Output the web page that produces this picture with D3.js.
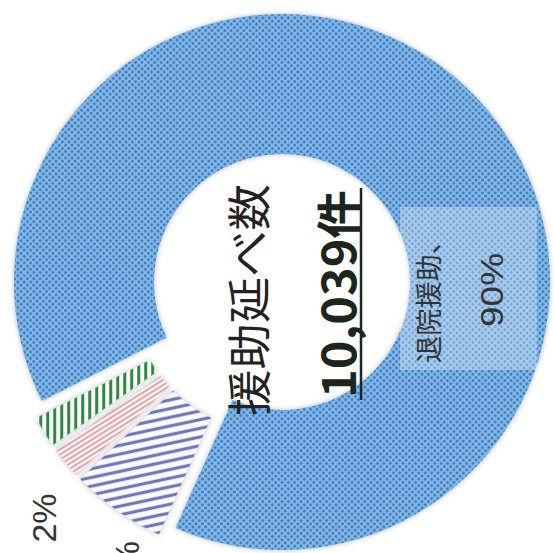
<!DOCTYPE html>
<html>
<head>
<meta charset="utf-8">
<script src="https://cdn.jsdelivr.net/npm/d3@7"></script>
<style>
  body { margin: 0; background: #fff; }
  svg { display: block; }
</style>
</head>
<body>
<svg width="554" height="553"></svg>
<script>
// chart data
var categories = ['退院援助', '区分B', '区分C', '区分D'];
var values = [90, 6, 2, 2];
var pctLabels = ['90%', '6%', '2%', '2%'];
var fills = ['dots', 'hatchPurple', 'hatchPink', 'hatchGreen'];
var totalLabel = '援助延べ数';
var totalValue = '10,039件';

var svg = d3.select('svg');
var cx = 282, cy = 282;
var deg = Math.PI / 180;

var defs = svg.append('defs');

// halftone blue
var dots = defs.append('pattern').attr('id', 'dots')
    .attr('patternUnits', 'userSpaceOnUse')
    .attr('width', 4.5).attr('height', 4.5)
    .attr('patternTransform', 'rotate(45)');
dots.append('rect').attr('width', 4.5).attr('height', 4.5).attr('fill', '#84b8e6');
dots.append('circle').attr('cx', 2.25).attr('cy', 2.25).attr('r', 1.5).attr('fill', '#3f7fc2');

function hatch(id, color, period, width, angle) {
    var p = defs.append('pattern').attr('id', id)
        .attr('patternUnits', 'userSpaceOnUse')
        .attr('width', 20).attr('height', period)
        .attr('patternTransform', 'rotate(' + angle + ')');
    p.append('rect').attr('width', 20).attr('height', period).attr('fill', '#fbfbfb');
    p.append('line').attr('x1', 0).attr('x2', 20)
        .attr('y1', period / 2).attr('y2', period / 2)
        .attr('stroke', color).attr('stroke-width', width);
}
hatch('hatchPurple', '#7078bb', 8.5, 3.2, -12);
hatch('hatchPink', '#e2959c', 4.3, 1.8, -32);
hatch('hatchGreen', '#2e8a40', 7, 3, 90);

var shadow = defs.append('filter').attr('id', 'shadow')
    .attr('x', '-10%').attr('y', '-10%').attr('width', '120%').attr('height', '120%');
shadow.append('feDropShadow').attr('dx', 0).attr('dy', 0)
    .attr('stdDeviation', 2.5).attr('flood-color', '#556070').attr('flood-opacity', 0.45);

var pie = d3.pie().sort(null)
    .startAngle(243 * deg).endAngle(603 * deg)
    .padAngle(0.02);
var arcs = pie(values);

var mainArc = d3.arc().innerRadius(128).outerRadius(268);
var smallArc = d3.arc().innerRadius(134).outerRadius(262);

var g = svg.append('g').attr('transform', 'translate(' + [cx, cy] + ')');

// big slice
g.append('path')
    .datum(arcs[0])
    .attr('d', mainArc)
    .attr('fill', 'url(#' + fills[0] + ')')
    .attr('filter', 'url(#shadow)');

// small slices pulled out together
var midA = (arcs[1].startAngle + arcs[3].endAngle) / 2;
var off = 20;
var sg = g.append('g')
    .attr('transform', 'translate(' + [Math.sin(midA) * off, -Math.cos(midA) * off] + ')')
    .attr('filter', 'url(#shadow)');
sg.selectAll('path')
    .data(arcs.slice(1))
    .enter().append('path')
    .attr('d', smallArc)
    .attr('fill', function(d, i) { return 'url(#' + fills[i + 1] + ')'; });

// light box behind the main label
svg.append('rect')
    .attr('x', 400).attr('y', 207).attr('width', 137).attr('height', 163)
    .attr('fill', '#ffffff').attr('opacity', 0.3);

function vtext(x, y, txt, size, opts) {
    opts = opts || {};
    var t = svg.append('text')
        .attr('transform', 'translate(' + [x, y] + ') rotate(-90)')
        .attr('text-anchor', opts.anchor || 'middle')
        .attr('dominant-baseline', 'central')
        .attr('font-family', opts.family || '"Noto Sans CJK JP", "Noto Sans", sans-serif')
        .attr('font-size', size)
        .attr('font-weight', opts.weight || 'normal')
        .attr('fill', opts.color || '#2a2a2a')
        .text(txt);
    if (opts.len) t.attr('textLength', opts.len).attr('lengthAdjust', 'spacingAndGlyphs');
    return t;
}

// centre texts
vtext(247, 300, totalLabel, 44, {len: 232, color: '#222'});
vtext(336, 294, totalValue, 46, {weight: 'bold', len: 208, color: '#1c261c'});
svg.append('line')
    .attr('x1', 361).attr('x2', 361).attr('y1', 188).attr('y2', 400)
    .attr('stroke', '#1c261c').attr('stroke-width', 2.5);

// big slice label
vtext(427, 295, categories[0] + '、', 27, {len: 136, color: '#333'});
vtext(492, 290, pctLabels[0], 32, {family: '"Liberation Sans", Arial, sans-serif', color: '#333', len: 74});

// small slice labels (second one runs past the bottom edge, as in the source)
vtext(44, 518, pctLabels[3], 34, {family: '"Liberation Sans", Arial, sans-serif', color: '#333'});
vtext(127, 541, pctLabels[1], 34, {family: '"Liberation Sans", Arial, sans-serif', color: '#333', anchor: 'end'});
</script>
</body>
</html>
